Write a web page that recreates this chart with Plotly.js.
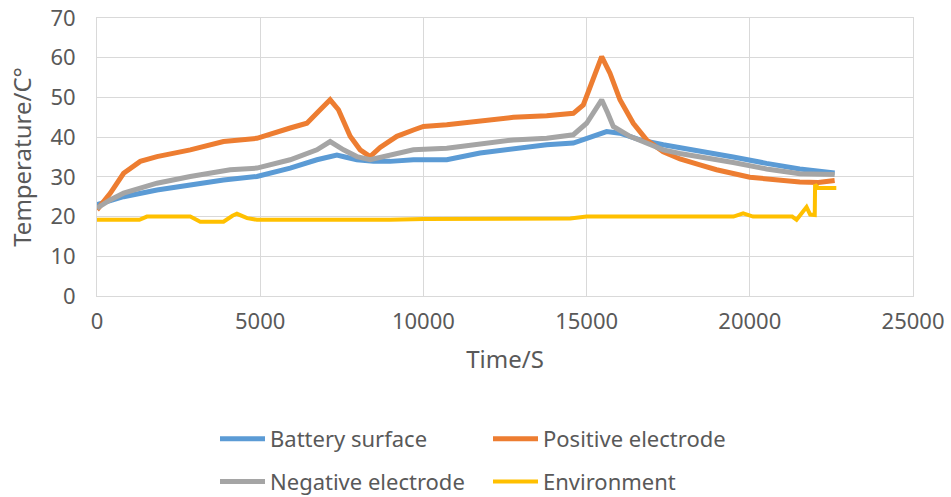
<!DOCTYPE html>
<html>
<head>
<meta charset="utf-8">
<script src="https://cdn.plot.ly/plotly-3.0.1.min.js"></script>
<style>html,body{margin:0;padding:0;background:#fff;}#chart{width:951px;height:497px;}</style>
</head>
<body>
<div id="chart"></div>
<script>
// Battery surface
const surfaceTime = [0, 400, 815, 1837, 2857, 3876, 4899, 5918, 6737, 7150, 7349, 7600, 7961, 8470, 8980, 9694, 10716, 11736, 12756, 13778, 14593, 15103, 15450, 15614, 16022, 16634, 17348, 17860, 18471, 19491, 20511, 21531, 22600];
const surfaceTemp = [23.0, 24.0, 25.0, 26.7, 28.0, 29.2, 30.1, 32.2, 34.3, 35.2, 35.5, 35.0, 34.3, 33.9, 33.9, 34.3, 34.3, 36.0, 37.2, 38.1, 38.5, 39.8, 41.0, 41.4, 41.0, 39.3, 38.1, 37.4, 36.5, 35.0, 33.4, 32.0, 31.0];
// Positive electrode
const positiveTime = [0, 410, 815, 1326, 1837, 2857, 3876, 4899, 5918, 6430, 6837, 7143, 7398, 7756, 8062, 8368, 8674, 9186, 9694, 10000, 10716, 11736, 12756, 13778, 14593, 14899, 15205, 15462, 15716, 16022, 16430, 16838, 17348, 17860, 18471, 18981, 20002, 21021, 21531, 22100, 22600];
const positiveTemp = [21.7, 25.9, 30.9, 33.9, 35.1, 36.8, 38.9, 39.7, 42.3, 43.5, 46.9, 49.4, 46.9, 40.2, 36.8, 35.1, 37.4, 40.2, 41.8, 42.7, 43.1, 43.9, 45.0, 45.4, 46.0, 48.1, 54.4, 60.3, 56.1, 49.4, 43.5, 39.3, 36.3, 34.5, 33.0, 31.8, 29.9, 29.0, 28.7, 28.6, 29.1];
// Negative electrode
const negativeTime = [0, 400, 815, 1837, 2857, 4082, 4899, 5918, 6737, 7143, 7552, 7961, 8368, 8980, 9694, 10716, 11736, 12756, 13778, 14593, 15000, 15250, 15462, 15650, 15818, 16328, 16838, 17348, 17860, 18471, 19491, 20511, 21531, 22600];
const negativeTemp = [22.1, 24.2, 25.9, 28.4, 30.1, 31.8, 32.2, 34.3, 36.8, 38.9, 36.8, 35.1, 34.3, 35.5, 36.8, 37.2, 38.1, 39.3, 39.7, 40.6, 43.5, 46.5, 49.4, 46.0, 42.7, 40.2, 38.5, 36.8, 35.9, 35.1, 33.6, 32.0, 30.8, 30.6];
// Environment
const envTime = [0, 1300, 1530, 2857, 3163, 3876, 4150, 4287, 4600, 4899, 8980, 10000, 14500, 15000, 19500, 19797, 20100, 21300, 21433, 21739, 21850, 21990, 22000, 22100, 22650];
const envTemp = [19.2, 19.2, 20.0, 20.0, 18.7, 18.7, 20.2, 20.7, 19.6, 19.2, 19.2, 19.4, 19.5, 20.0, 20.0, 20.8, 20.0, 20.0, 19.2, 22.4, 20.5, 20.4, 28.0, 27.2, 27.2];

const seriesNames = ['Battery surface', 'Positive electrode', 'Negative electrode', 'Environment'];

const traces = [
  {x: surfaceTime, y: surfaceTemp, name: seriesNames[0], type: 'scatter', mode: 'lines',
   line: {color: '#5b9bd5', width: 5}, legend: 'legend', legendgroup: 'g1'},
  {x: positiveTime, y: positiveTemp, name: seriesNames[1], type: 'scatter', mode: 'lines',
   line: {color: '#ed7d31', width: 5}, legend: 'legend2', legendgroup: 'g2'},
  {x: negativeTime, y: negativeTemp, name: seriesNames[2], type: 'scatter', mode: 'lines',
   line: {color: '#a5a5a5', width: 5}, legend: 'legend', legendgroup: 'g3'},
  {x: envTime, y: envTemp, name: seriesNames[3], type: 'scatter', mode: 'lines',
   line: {color: '#ffc000', width: 4}, legend: 'legend2', legendgroup: 'g4'}
];

const legendBase = {
  orientation: 'v', xanchor: 'left', yanchor: 'top', y: -0.439,
  itemwidth: 45, tracegroupgap: 11, traceorder: 'grouped',
  font: {family: 'Noto Sans', size: 22, color: '#595959'},
  bgcolor: 'rgba(0,0,0,0)'
};

const layout = {
  width: 951, height: 497,
  margin: {l: 97, r: 38, t: 18, b: 201, autoexpand: false},
  paper_bgcolor: '#ffffff', plot_bgcolor: '#ffffff',
  font: {family: 'Noto Sans', color: '#595959', size: 22},
  showlegend: true,
  xaxis: {
    range: [0, 25000], tick0: 0, dtick: 5000, tickformat: 'd', showgrid: true, gridcolor: '#d9d9d9', gridwidth: 1,
    zeroline: false, showline: true, mirror: true, linecolor: '#d9d9d9', linewidth: 1, ticks: '',
    tickfont: {size: 22, color: '#595959'}, ticklabelstandoff: 6, automargin: false,
    title: {text: 'Time/S', font: {size: 24, color: '#595959'}, standoff: 16}
  },
  yaxis: {
    range: [0, 70], tick0: 0, dtick: 10, showgrid: true, gridcolor: '#d9d9d9', gridwidth: 1,
    zeroline: false, showline: true, mirror: true, linecolor: '#d9d9d9', linewidth: 1, ticks: '',
    tickfont: {size: 22, color: '#595959'}, ticklabelstandoff: 16, automargin: false,
    title: {text: 'Temperature/C°', font: {size: 24, color: '#595959'}, standoff: 12}
  },
  legend: Object.assign({}, legendBase, {x: (215 - 97) / 816}),
  legend2: Object.assign({}, legendBase, {x: (488 - 97) / 816})
};

Plotly.newPlot('chart', traces, layout, {displayModeBar: false, staticPlot: true});
</script>
</body>
</html>
